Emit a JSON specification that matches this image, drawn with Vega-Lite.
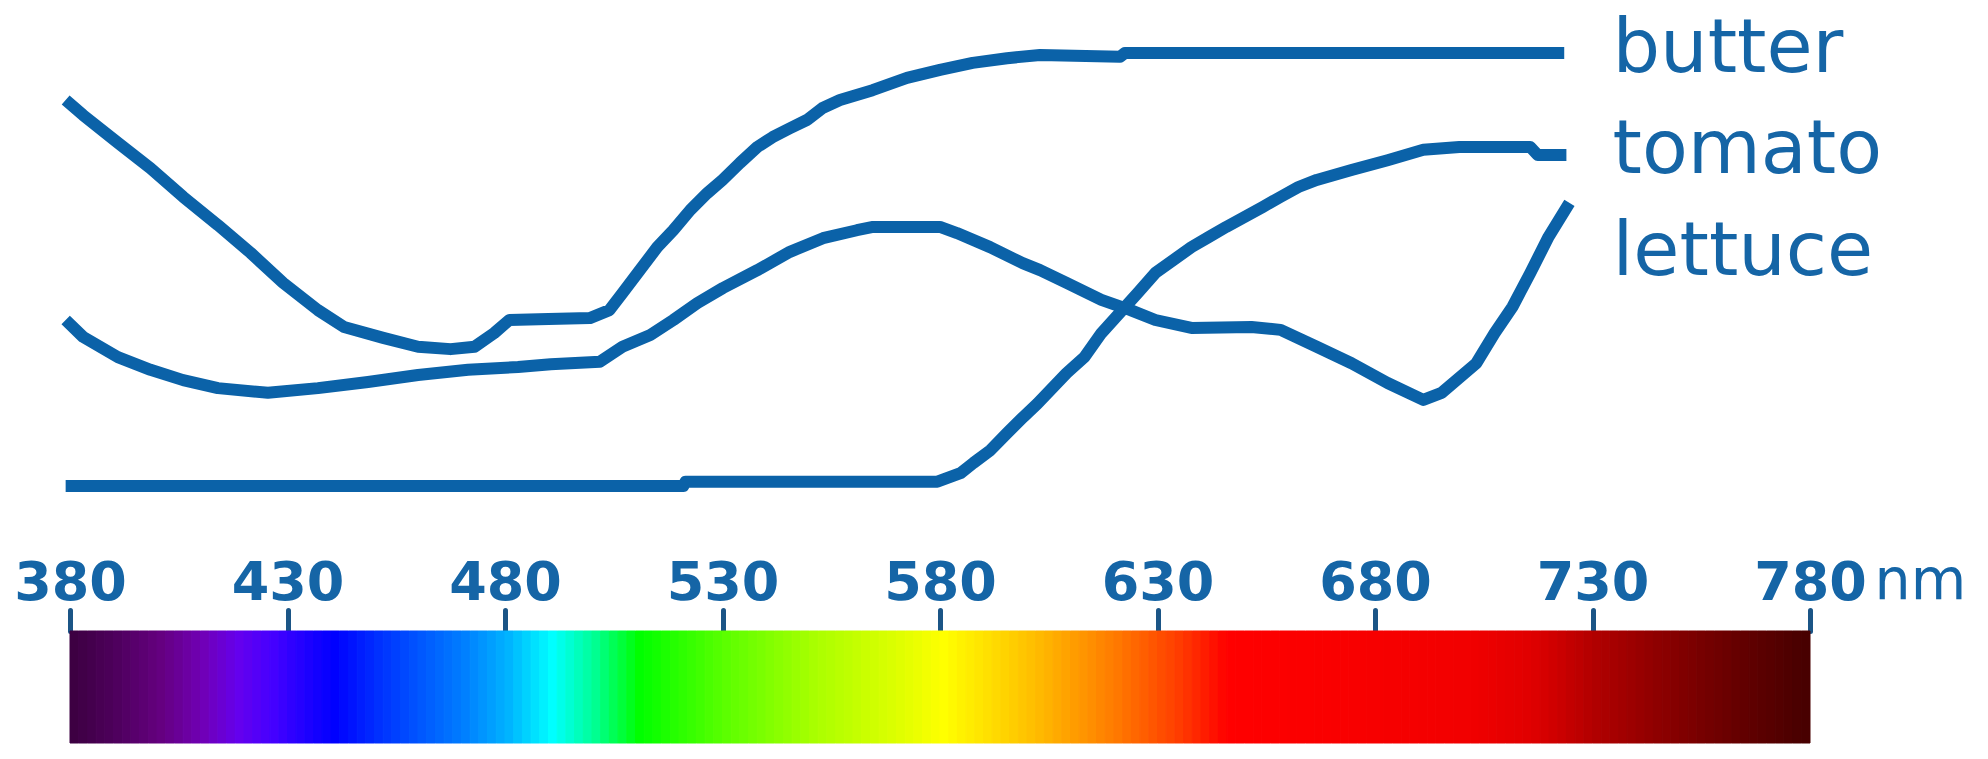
{
  "$schema": "https://vega.github.io/schema/vega-lite/v6.json",
  "autosize": {"type": "none"},
  "padding": {"left": 70, "top": 631, "right": 178, "bottom": 16},
  "width": 1740,
  "height": 112,
  "background": "white",
  "config": {"view": {"stroke": null}},
  "datasets": {
    "spectrum": [
      {"a":380,"b":382},{"a":382,"b":384},{"a":384,"b":386},{"a":386,"b":388},{"a":388,"b":390},
      {"a":390,"b":392},{"a":392,"b":394},{"a":394,"b":396},{"a":396,"b":398},{"a":398,"b":400},
      {"a":400,"b":402},{"a":402,"b":404},{"a":404,"b":406},{"a":406,"b":408},{"a":408,"b":410},
      {"a":410,"b":412},{"a":412,"b":414},{"a":414,"b":416},{"a":416,"b":418},{"a":418,"b":420},
      {"a":420,"b":422},{"a":422,"b":424},{"a":424,"b":426},{"a":426,"b":428},{"a":428,"b":430},
      {"a":430,"b":432},{"a":432,"b":434},{"a":434,"b":436},{"a":436,"b":438},{"a":438,"b":440},
      {"a":440,"b":442},{"a":442,"b":444},{"a":444,"b":446},{"a":446,"b":448},{"a":448,"b":450},
      {"a":450,"b":452},{"a":452,"b":454},{"a":454,"b":456},{"a":456,"b":458},{"a":458,"b":460},
      {"a":460,"b":462},{"a":462,"b":464},{"a":464,"b":466},{"a":466,"b":468},{"a":468,"b":470},
      {"a":470,"b":472},{"a":472,"b":474},{"a":474,"b":476},{"a":476,"b":478},{"a":478,"b":480},
      {"a":480,"b":482},{"a":482,"b":484},{"a":484,"b":486},{"a":486,"b":488},{"a":488,"b":490},
      {"a":490,"b":492},{"a":492,"b":494},{"a":494,"b":496},{"a":496,"b":498},{"a":498,"b":500},
      {"a":500,"b":502},{"a":502,"b":504},{"a":504,"b":506},{"a":506,"b":508},{"a":508,"b":510},
      {"a":510,"b":512},{"a":512,"b":514},{"a":514,"b":516},{"a":516,"b":518},{"a":518,"b":520},
      {"a":520,"b":522},{"a":522,"b":524},{"a":524,"b":526},{"a":526,"b":528},{"a":528,"b":530},
      {"a":530,"b":532},{"a":532,"b":534},{"a":534,"b":536},{"a":536,"b":538},{"a":538,"b":540},
      {"a":540,"b":542},{"a":542,"b":544},{"a":544,"b":546},{"a":546,"b":548},{"a":548,"b":550},
      {"a":550,"b":552},{"a":552,"b":554},{"a":554,"b":556},{"a":556,"b":558},{"a":558,"b":560},
      {"a":560,"b":562},{"a":562,"b":564},{"a":564,"b":566},{"a":566,"b":568},{"a":568,"b":570},
      {"a":570,"b":572},{"a":572,"b":574},{"a":574,"b":576},{"a":576,"b":578},{"a":578,"b":580},
      {"a":580,"b":582},{"a":582,"b":584},{"a":584,"b":586},{"a":586,"b":588},{"a":588,"b":590},
      {"a":590,"b":592},{"a":592,"b":594},{"a":594,"b":596},{"a":596,"b":598},{"a":598,"b":600},
      {"a":600,"b":602},{"a":602,"b":604},{"a":604,"b":606},{"a":606,"b":608},{"a":608,"b":610},
      {"a":610,"b":612},{"a":612,"b":614},{"a":614,"b":616},{"a":616,"b":618},{"a":618,"b":620},
      {"a":620,"b":622},{"a":622,"b":624},{"a":624,"b":626},{"a":626,"b":628},{"a":628,"b":630},
      {"a":630,"b":632},{"a":632,"b":634},{"a":634,"b":636},{"a":636,"b":638},{"a":638,"b":640},
      {"a":640,"b":642},{"a":642,"b":644},{"a":644,"b":646},{"a":646,"b":648},{"a":648,"b":650},
      {"a":650,"b":652},{"a":652,"b":654},{"a":654,"b":656},{"a":656,"b":658},{"a":658,"b":660},
      {"a":660,"b":662},{"a":662,"b":664},{"a":664,"b":666},{"a":666,"b":668},{"a":668,"b":670},
      {"a":670,"b":672},{"a":672,"b":674},{"a":674,"b":676},{"a":676,"b":678},{"a":678,"b":680},
      {"a":680,"b":682},{"a":682,"b":684},{"a":684,"b":686},{"a":686,"b":688},{"a":688,"b":690},
      {"a":690,"b":692},{"a":692,"b":694},{"a":694,"b":696},{"a":696,"b":698},{"a":698,"b":700},
      {"a":700,"b":702},{"a":702,"b":704},{"a":704,"b":706},{"a":706,"b":708},{"a":708,"b":710},
      {"a":710,"b":712},{"a":712,"b":714},{"a":714,"b":716},{"a":716,"b":718},{"a":718,"b":720},
      {"a":720,"b":722},{"a":722,"b":724},{"a":724,"b":726},{"a":726,"b":728},{"a":728,"b":730},
      {"a":730,"b":732},{"a":732,"b":734},{"a":734,"b":736},{"a":736,"b":738},{"a":738,"b":740},
      {"a":740,"b":742},{"a":742,"b":744},{"a":744,"b":746},{"a":746,"b":748},{"a":748,"b":750},
      {"a":750,"b":752},{"a":752,"b":754},{"a":754,"b":756},{"a":756,"b":758},{"a":758,"b":760},
      {"a":760,"b":762},{"a":762,"b":764},{"a":764,"b":766},{"a":766,"b":768},{"a":768,"b":770},
      {"a":770,"b":772},{"a":772,"b":774},{"a":774,"b":776},{"a":776,"b":778},{"a":778,"b":780}
    ],
    "curves": [
      {"food":"butter","nm":379,"r":85.1},{"food":"butter","nm":383,"r":81.9},{"food":"butter","nm":391,"r":76.0},
      {"food":"butter","nm":398.5,"r":70.6},{"food":"butter","nm":406,"r":64.5},{"food":"butter","nm":414,"r":58.5},
      {"food":"butter","nm":421.5,"r":52.6},{"food":"butter","nm":429,"r":46.2},{"food":"butter","nm":437,"r":40.4},
      {"food":"butter","nm":443,"r":36.8},{"food":"butter","nm":452,"r":34.5},{"food":"butter","nm":460,"r":32.6},
      {"food":"butter","nm":467.5,"r":32.1},{"food":"butter","nm":473,"r":32.6},{"food":"butter","nm":477.5,"r":35.5},
      {"food":"butter","nm":481,"r":38.3},{"food":"butter","nm":490,"r":38.5},{"food":"butter","nm":499.5,"r":38.7},
      {"food":"butter","nm":504,"r":40.4},{"food":"butter","nm":507,"r":44.0},{"food":"butter","nm":511,"r":48.9},
      {"food":"butter","nm":515,"r":53.8},{"food":"butter","nm":518.7,"r":57.4},{"food":"butter","nm":522.6,"r":61.7},
      {"food":"butter","nm":526.5,"r":65.3},{"food":"butter","nm":530,"r":68.1},{"food":"butter","nm":534,"r":71.7},
      {"food":"butter","nm":538,"r":75.1},{"food":"butter","nm":541.5,"r":77.2},{"food":"butter","nm":545.5,"r":79.1},
      {"food":"butter","nm":549.5,"r":80.9},{"food":"butter","nm":553,"r":83.4},{"food":"butter","nm":557,"r":85.1},
      {"food":"butter","nm":564.5,"r":87.2},{"food":"butter","nm":572.4,"r":89.8},{"food":"butter","nm":580,"r":91.5},
      {"food":"butter","nm":587.5,"r":93.0},{"food":"butter","nm":595.4,"r":94.0},{"food":"butter","nm":603,"r":94.7},
      {"food":"butter","nm":621.4,"r":94.3},{"food":"butter","nm":622.5,"r":95.1},{"food":"butter","nm":723.5,"r":95.1},

      {"food":"lettuce","nm":379,"r":38.3},{"food":"lettuce","nm":383,"r":34.7},{"food":"lettuce","nm":391,"r":30.4},
      {"food":"lettuce","nm":398.5,"r":27.7},{"food":"lettuce","nm":406,"r":25.5},{"food":"lettuce","nm":414,"r":23.8},
      {"food":"lettuce","nm":425.5,"r":22.8},{"food":"lettuce","nm":437,"r":23.8},{"food":"lettuce","nm":448.5,"r":25.1},
      {"food":"lettuce","nm":460,"r":26.6},{"food":"lettuce","nm":471.5,"r":27.7},{"food":"lettuce","nm":483,"r":28.3},
      {"food":"lettuce","nm":490.5,"r":28.9},{"food":"lettuce","nm":501.8,"r":29.4},{"food":"lettuce","nm":507,"r":32.6},
      {"food":"lettuce","nm":513.4,"r":35.1},{"food":"lettuce","nm":518.7,"r":38.3},{"food":"lettuce","nm":524.2,"r":41.9},
      {"food":"lettuce","nm":530.1,"r":45.1},{"food":"lettuce","nm":538,"r":48.9},{"food":"lettuce","nm":545.5,"r":52.8},
      {"food":"lettuce","nm":553.1,"r":55.7},{"food":"lettuce","nm":560.9,"r":57.4},{"food":"lettuce","nm":564.6,"r":58.1},
      {"food":"lettuce","nm":580,"r":58.1},{"food":"lettuce","nm":583.9,"r":56.8},{"food":"lettuce","nm":591.5,"r":53.8},
      {"food":"lettuce","nm":599,"r":50.4},{"food":"lettuce","nm":603,"r":48.9},{"food":"lettuce","nm":609.1,"r":46.2},
      {"food":"lettuce","nm":617.1,"r":42.6},{"food":"lettuce","nm":623.8,"r":40.4},{"food":"lettuce","nm":629.5,"r":38.3},
      {"food":"lettuce","nm":637.8,"r":36.6},{"food":"lettuce","nm":651.6,"r":36.8},{"food":"lettuce","nm":658.3,"r":36.2},
      {"food":"lettuce","nm":666.6,"r":32.6},{"food":"lettuce","nm":674.6,"r":29.1},{"food":"lettuce","nm":682.9,"r":24.9},
      {"food":"lettuce","nm":691.1,"r":21.3},{"food":"lettuce","nm":695.3,"r":22.8},{"food":"lettuce","nm":703.3,"r":29.1},
      {"food":"lettuce","nm":707.5,"r":35.5},{"food":"lettuce","nm":711.6,"r":41.1},{"food":"lettuce","nm":715.7,"r":48.3},
      {"food":"lettuce","nm":719.9,"r":56.0},{"food":"lettuce","nm":724.7,"r":63.2},

      {"food":"tomato","nm":379,"r":3.0},{"food":"tomato","nm":521,"r":3.0},{"food":"tomato","nm":521.5,"r":3.9},
      {"food":"tomato","nm":579.4,"r":3.9},{"food":"tomato","nm":584.7,"r":5.7},{"food":"tomato","nm":587.7,"r":7.9},
      {"food":"tomato","nm":591.6,"r":10.6},{"food":"tomato","nm":595.5,"r":14.3},{"food":"tomato","nm":599.2,"r":17.7},
      {"food":"tomato","nm":602.4,"r":20.5},{"food":"tomato","nm":609.1,"r":27.0},{"food":"tomato","nm":613.2,"r":30.4},
      {"food":"tomato","nm":617.1,"r":35.5},{"food":"tomato","nm":621.3,"r":39.8},{"food":"tomato","nm":625.4,"r":44.0},
      {"food":"tomato","nm":629.5,"r":48.3},{"food":"tomato","nm":633.7,"r":51.1},{"food":"tomato","nm":637.8,"r":53.8},
      {"food":"tomato","nm":641.9,"r":56.0},{"food":"tomato","nm":645.8,"r":58.1},{"food":"tomato","nm":650,"r":60.2},
      {"food":"tomato","nm":654.1,"r":62.3},{"food":"tomato","nm":658.3,"r":64.5},{"food":"tomato","nm":662.4,"r":66.6},
      {"food":"tomato","nm":666.6,"r":68.1},{"food":"tomato","nm":674.6,"r":70.2},{"food":"tomato","nm":682.9,"r":72.3},
      {"food":"tomato","nm":691.1,"r":74.5},{"food":"tomato","nm":699.4,"r":75.1},{"food":"tomato","nm":715.7,"r":75.1},
      {"food":"tomato","nm":717.4,"r":73.4},{"food":"tomato","nm":724,"r":73.4}
    ],
    "labels": [
      {"name":"butter","nm":734.6,"r":91.1},
      {"name":"tomato","nm":734.6,"r":69.6},
      {"name":"lettuce","nm":734.6,"r":47.9}
    ]
  },
  "layer": [
    {
      "data": {"name": "spectrum"},
      "mark": {"type": "rect", "strokeWidth": 1},
      "encoding": {
        "x": {
          "field": "a", "type": "quantitative",
          "scale": {"domain": [380, 780], "nice": false, "zero": false},
          "axis": {
            "orient": "top",
            "values": [380, 430, 480, 530, 580, 630, 680, 730, 780],
            "format": "d",
            "domain": false, "grid": false,
            "ticks": true, "tickSize": 21, "tickWidth": 5, "tickColor": "#1b5586", "tickCap": "round",
            "labelFont": "DejaVu Sans", "labelFontSize": 54, "labelFontWeight": "bold", "labelColor": "#1565a6",
            "labelPadding": 11, "labelBaseline": "alphabetic", "labelAlign": "center",
            "labelFlush": false, "labelOverlap": false,
            "title": "nm", "titleFont": "DejaVu Sans", "titleFontSize": 57, "titleFontWeight": "normal",
            "titleColor": "#1565a6", "titleX": 1804, "titleY": -33, "titleAlign": "left",
            "titleBaseline": "alphabetic", "titleAngle": 0
          }
        },
        "x2": {"field": "b"},
        "fill": {
          "field": "a", "type": "quantitative", "legend": null,
          "scale": {
            "domain": [380,390,400,410,418,426,433,440,450,460,470,480,490,500,510,530,550,570,580,600,620,635,645,700,715,730,750,765,780],
            "range": ["#3d0042","#4f005e","#650080","#7000b8","#6400ee","#4400ff","#2000ff","#0000ff","#0030ff","#0058ff","#0080ff","#00b4ff","#00ffff","#00ff90","#00ff00","#5cff00","#a8ff00","#e0ff00","#ffff00","#ffc000","#ff7800","#ff3800","#ff0000","#f20000","#e00000","#b00000","#800000","#600000","#440000"],
            "interpolate": "rgb"
          }
        },
        "stroke": {
          "field": "a", "type": "quantitative", "legend": null,
          "scale": {
            "domain": [380,390,400,410,418,426,433,440,450,460,470,480,490,500,510,530,550,570,580,600,620,635,645,700,715,730,750,765,780],
            "range": ["#3d0042","#4f005e","#650080","#7000b8","#6400ee","#4400ff","#2000ff","#0000ff","#0030ff","#0058ff","#0080ff","#00b4ff","#00ffff","#00ff90","#00ff00","#5cff00","#a8ff00","#e0ff00","#ffff00","#ffc000","#ff7800","#ff3800","#ff0000","#f20000","#e00000","#b00000","#800000","#600000","#440000"],
            "interpolate": "rgb"
          }
        }
      }
    },
    {
      "data": {"name": "curves"},
      "mark": {"type": "line", "strokeWidth": 12, "color": "#0b62a8", "strokeCap": "butt", "strokeJoin": "round", "interpolate": "linear", "clip": false},
      "encoding": {
        "x": {"field": "nm", "type": "quantitative"},
        "y": {
          "field": "r", "type": "quantitative",
          "scale": {"domain": [0, 100], "range": [-131, -601], "nice": false, "zero": false},
          "axis": null
        },
        "detail": {"field": "food"}
      }
    },
    {
      "data": {"name": "labels"},
      "mark": {"type": "text", "font": "DejaVu Sans", "fontSize": 75, "align": "left", "baseline": "alphabetic", "color": "#1565a6", "clip": false},
      "encoding": {
        "x": {"field": "nm", "type": "quantitative"},
        "y": {"field": "r", "type": "quantitative"},
        "text": {"field": "name"}
      }
    }
  ]
}
